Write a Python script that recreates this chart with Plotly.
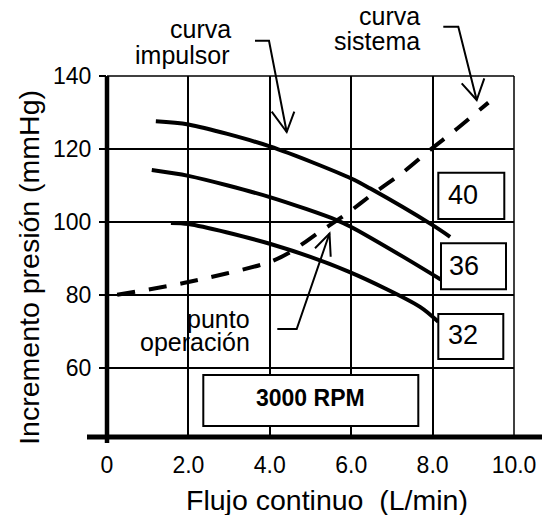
import plotly.graph_objects as go

# ---------------- data ----------------
flow_40 = [1.2, 2.0, 4.0, 6.0, 6.46, 8.0, 8.43]
pres_40 = [127.6, 126.7, 120.7, 111.9, 109.2, 99.1, 95.9]

flow_36 = [1.1, 2.0, 4.0, 5.64, 6.0, 7.28, 8.2]
pres_36 = [114.2, 112.6, 106.8, 100.5, 98.6, 90.4, 84.2]

flow_32 = [1.57, 2.0, 4.0, 5.95, 7.69, 8.14]
pres_32 = [99.7, 99.4, 94.0, 86.3, 76.7, 72.6]

flow_sys = [0.25, 2.0, 4.0, 4.53, 5.19, 5.91, 6.56, 7.24, 7.91, 8.54, 9.37]
pres_sys = [80.0, 83.5, 89.0, 91.9, 97.0, 102.4, 107.9, 113.3, 119.5, 125.0, 132.7]

x_tickvals = [0, 2, 4, 6, 8, 10]
x_ticktext = ["0", "2.0", "4.0", "6.0", "8.0", "10.0"]
y_tickvals = [60, 80, 100, 120, 140]
y_ticktext = ["60", "80", "100", "120", "140"]

curve_labels = ["40", "36", "32"]

# ---------------- layout geometry ----------------
# the page body has an 8px margin, so the figure is drawn 8px in from the corner
OFF = 8
W, H = 550 - OFF, 515 - OFF
L, T = 107 - OFF, 76 - OFF
R = W - (514 - OFF)
B = H - (437 - OFF)
PW = W - L - R
PH = H - T - B
FONT = "Liberation Sans, Arial, Helvetica, sans-serif"


def px(xp):
    return (xp - OFF - L) / PW


def py(yp):
    return (T + PH - (yp - OFF)) / PH


fig = go.Figure()

line_style = dict(color="black", width=4, shape="spline", smoothing=0.8)
for fx, fy in [(flow_40, pres_40), (flow_36, pres_36), (flow_32, pres_32)]:
    fig.add_trace(go.Scatter(x=fx, y=fy, mode="lines", line=line_style,
                             hoverinfo="skip", showlegend=False))

fig.add_trace(go.Scatter(x=flow_sys, y=pres_sys, mode="lines",
                         line=dict(color="black", width=4, dash="18px,14px",
                                   shape="spline", smoothing=0.8),
                         hoverinfo="skip", showlegend=False))

shapes = []
# frame lines (top and right)
shapes.append(dict(type="line", xref="paper", yref="paper", x0=0, x1=1, y0=1, y1=1,
                   line=dict(color="black", width=1.5), layer="below"))
shapes.append(dict(type="line", xref="paper", yref="paper", x0=1, x1=1, y0=0, y1=1,
                   line=dict(color="black", width=1.5), layer="below"))
# thick axes
shapes.append(dict(type="line", xref="paper", yref="paper", x0=px(87), x1=px(544),
                   y0=0, y1=0, line=dict(color="black", width=5)))
shapes.append(dict(type="line", xref="paper", yref="paper", x0=0, x1=0,
                   y0=py(443), y1=1, line=dict(color="black", width=4.5)))

# label boxes
boxes = [(438.3, 504.3, 172.7, 219.0), (441.0, 506.0, 243.3, 289.3),
         (438.3, 503.3, 314.0, 359.0), (203.3, 418.3, 375.0, 426.0)]
for x0, x1, y0, y1 in boxes:
    shapes.append(dict(type="rect", xref="paper", yref="paper",
                       x0=px(x0), x1=px(x1), y0=py(y1), y1=py(y0),
                       fillcolor="white", line=dict(color="black", width=2)))


def path(points):
    s = ""
    for i, (a, b) in enumerate(points):
        s += ("M" if i == 0 else "L") + f"{px(a):.5f},{py(b):.5f} "
    return s.strip()


arrows = [
    ([(255, 40.7), (269, 40.7), (286.7, 132)], [(271.7, 111.7), (286.7, 132), (294.3, 111.7)]),
    ([(443.3, 26.7), (458.3, 26.7), (476.7, 100)], [(461.7, 83.3), (476.7, 100), (484.3, 78.3)]),
    ([(277.3, 329), (296.7, 329), (329.5, 233.5)], [(315, 248.3), (329.5, 233.5), (330.7, 256.7)]),
]
for stem, head in arrows:
    for pts in (stem, head):
        shapes.append(dict(type="path", xref="paper", yref="paper", path=path(pts),
                           line=dict(color="black", width=2)))

annotations = []


def text(t, x, y, size, xanchor="center", bold=False, angle=0):
    annotations.append(dict(text=(f"<b>{t}</b>" if bold else t), xref="paper", yref="paper",
                            x=px(x), y=py(y), xanchor=xanchor, yanchor="middle",
                            showarrow=False, textangle=angle,
                            font=dict(family=FONT, size=size, color="black")))


text("curva", 233, 29, 25, "right")
text("impulsor", 231, 54.6, 25, "right")
text("curva", 421.7, 16.3, 25, "right")
text("sistema", 421.7, 41.3, 25, "right")
text("punto", 251.7, 318.5, 25, "right")
text("operación", 251.7, 342, 25, "right")
text(curve_labels[0], 446, 194.5, 27, "left")
text(curve_labels[1], 447.3, 265.8, 27, "left")
text(curve_labels[2], 446, 335, 27, "left")
text("3000 RPM", 310.5, 398, 23, "center", bold=True)
text("Flujo continuo \u00a0(L/min)", 327, 500, 28.5, "center")
text("Incremento presión (mmHg)", 28.3, 267.5, 28.5, "center", angle=-90)

fig.update_layout(
    width=W, height=H,
    margin=dict(l=L, r=R, t=T, b=B, pad=0),
    plot_bgcolor="white", paper_bgcolor="white",
    font=dict(family=FONT, size=23, color="black"),
    shapes=shapes, annotations=annotations, showlegend=False,
    xaxis=dict(range=[0, 10], tickvals=x_tickvals, ticktext=x_ticktext,
               showgrid=True, gridcolor="black", gridwidth=1.5,
               zeroline=False, showline=False, ticks="",
               ticklabelstandoff=12, tickfont=dict(size=23)),
    yaxis=dict(range=[41, 140], tickvals=y_tickvals, ticktext=y_ticktext,
               showgrid=True, gridcolor="black", gridwidth=1.5,
               zeroline=False, showline=False, ticks="outside", ticklen=7,
               tickwidth=1.5, tickcolor="black", ticklabelstandoff=3,
               tickfont=dict(size=23)),
)

fig.write_html("out.html")
